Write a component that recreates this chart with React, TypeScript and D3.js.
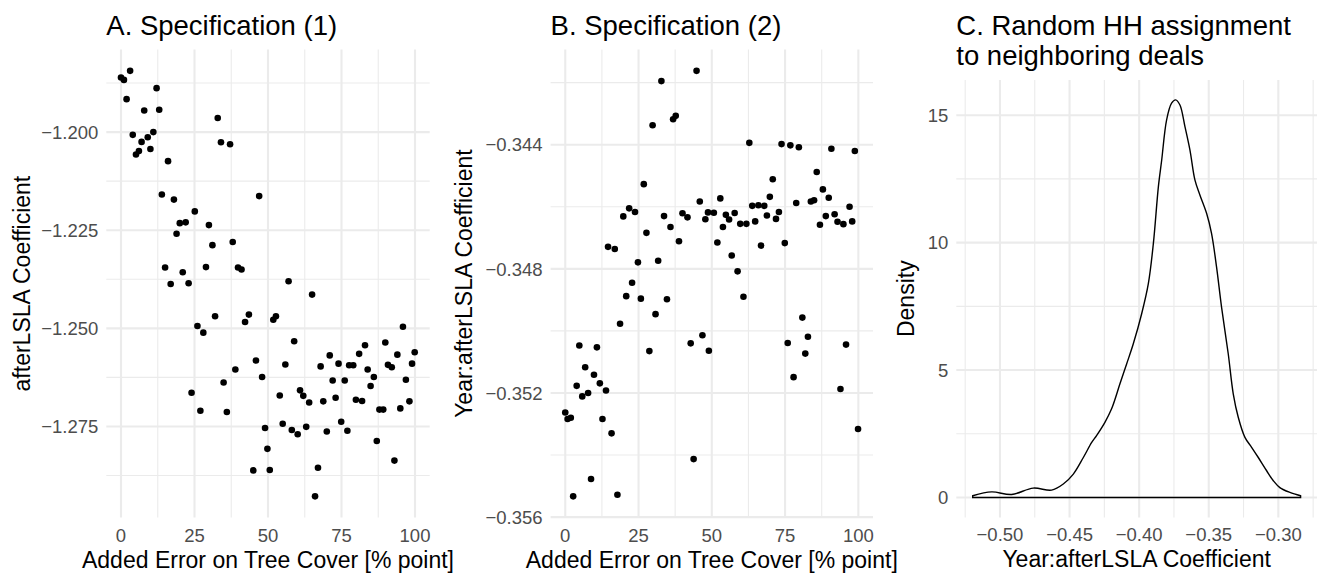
import React from 'react';
import * as d3 from 'd3';

const W = 1318;
const H = 576;

// Panel A: Specification (1)
const specAError = [3.1, 0, 1, 12.1, 1.9, 7.9, 13, 32.9, 4, 11, 9.1, 7, 34, 37.1, 10, 6.1, 5.1, 16, 13.9, 18, 47, 25.1, 20, 22, 29.9, 18.9, 31.1, 38, 15, 21, 28.9, 39.8, 41, 16.9, 23, 32, 43.5, 42.2, 26, 28, 45.9, 38.9, 48, 34.9, 24, 27, 36, 49, 49.8, 45, 50.6, 57, 65, 51.8, 52.7, 58.9, 95.9, 55.9, 67.9, 71, 74, 77.6, 79, 81, 83, 83.9, 86, 84.9, 89.9, 90.8, 92.1, 94, 99.9, 99, 96.9, 72, 76.1, 54, 60.9, 62, 64, 68.8, 73, 79.9, 82, 87.9, 89.2, 95, 98.1, 55, 58.1, 60.1, 63, 70, 74.9, 77, 87, 67, 93, 66];
const specACoef = [-1.1844, -1.1861, -1.1867, -1.1888, -1.1916, -1.1945, -1.1943, -1.1964, -1.2007, -1.2, -1.2013, -1.2025, -1.2026, -1.2031, -1.2043, -1.2048, -1.2057, -1.2074, -1.2159, -1.2172, -1.2163, -1.2202, -1.2232, -1.223, -1.2237, -1.2259, -1.2288, -1.228, -1.2345, -1.2357, -1.2344, -1.2345, -1.235, -1.2387, -1.2385, -1.2469, -1.2465, -1.2484, -1.2494, -1.2511, -1.2582, -1.2605, -1.2624, -1.2638, -1.2664, -1.271, -1.2713, -1.2754, -1.2807, -1.2862, -1.2861, -1.238, -1.2414, -1.2478, -1.2469, -1.2533, -1.2496, -1.2592, -1.2597, -1.2569, -1.259, -1.2594, -1.2594, -1.2565, -1.2543, -1.2605, -1.2624, -1.2647, -1.2536, -1.2593, -1.2599, -1.2567, -1.2561, -1.259, -1.2631, -1.2633, -1.2633, -1.2671, -1.2658, -1.2672, -1.2689, -1.2686, -1.2677, -1.2682, -1.2685, -1.2707, -1.2707, -1.2704, -1.2686, -1.2743, -1.2759, -1.277, -1.2751, -1.2763, -1.2738, -1.2761, -1.2787, -1.2855, -1.2837, -1.2928];

// Panel B: Specification (2)
const specBError = [44.8, 32.8, 29.8, 36.8, 37.7, 26.8, 45.9, 21.8, 19.8, 23.8, 33.7, 40, 41.7, 47.8, 48.7, 35.9, 27.7, 38.8, 14.6, 16.9, 24.8, 31.7, 22.8, 20.8, 25.8, 34.7, 30.8, 18.7, 4.8, 10.8, 28.7, 42.8, 46.8, 49, 6.8, 9.8, 3.9, 11.8, 5.8, 7.8, 13.9, 0, 0.8, 1.9, 12.7, 15.8, 43.8, 8.8, 2.7, 17.8, 62.8, 73.8, 76.8, 79.7, 90.8, 98.8, 85.8, 70.8, 87.9, 69.8, 89.9, 52.9, 78.8, 83.8, 84.9, 63.8, 65.9, 67.9, 97, 50.7, 54.8, 55.9, 57.8, 53.8, 59.7, 61.8, 64.8, 68.8, 71.9, 72.9, 86.9, 88.9, 91.9, 92.9, 94.9, 97.9, 51.9, 66.8, 74.9, 56.8, 58.8, 60.8, 80.9, 75.9, 82.8, 81.9, 95.8, 77.9, 93.9, 99.9];
const specBCoef = [-0.34162, -0.34195, -0.34337, -0.34318, -0.34307, -0.34527, -0.34583, -0.34605, -0.34631, -0.34617, -0.3463, -0.34621, -0.34634, -0.3464, -0.34618, -0.34665, -0.34684, -0.34711, -0.34729, -0.34736, -0.34779, -0.34774, -0.34845, -0.34888, -0.34896, -0.34898, -0.34946, -0.34977, -0.35047, -0.35053, -0.35065, -0.3504, -0.35014, -0.35064, -0.35117, -0.35141, -0.35177, -0.35169, -0.35211, -0.352, -0.35192, -0.35263, -0.35284, -0.3528, -0.35284, -0.3533, -0.35413, -0.35477, -0.35533, -0.35528, -0.34394, -0.34398, -0.34402, -0.34408, -0.34413, -0.3442, -0.34488, -0.34511, -0.34544, -0.34568, -0.34571, -0.34573, -0.34588, -0.34583, -0.34579, -0.34597, -0.34595, -0.34597, -0.346, -0.34619, -0.34626, -0.34641, -0.3462, -0.34665, -0.34655, -0.34655, -0.34647, -0.34628, -0.34639, -0.34617, -0.34658, -0.3463, -0.34624, -0.34648, -0.34656, -0.34647, -0.34715, -0.34725, -0.34717, -0.34757, -0.34808, -0.3489, -0.34957, -0.35039, -0.35019, -0.35073, -0.35044, -0.35149, -0.35187, -0.35316];

// Panel C: density of coefficient
const densCoef = [-0.5196, -0.506, -0.4916, -0.4761, -0.4629, -0.4545, -0.4473, -0.4401, -0.4341, -0.4306, -0.4246, -0.4198, -0.4138, -0.409, -0.4042, -0.3982, -0.3934, -0.3898, -0.3862, -0.3838, -0.3803, -0.3767, -0.3738, -0.3707, -0.3671, -0.3635, -0.3599, -0.3563, -0.3515, -0.348, -0.3444, -0.3408, -0.336, -0.3324, -0.3288, -0.324, -0.3192, -0.3144, -0.3084, -0.3036, -0.2989, -0.2917, -0.284];
const densValue = [0.07, 0.22, 0.12, 0.37, 0.29, 0.53, 0.92, 1.57, 2.16, 2.43, 2.95, 3.48, 4.46, 5.24, 6.03, 7.21, 8.39, 9.96, 12.19, 13.24, 14.81, 15.47, 15.6, 15.4, 14.55, 13.63, 12.45, 11.86, 11.14, 10.36, 9.05, 7.47, 5.64, 4.07, 3.15, 2.36, 1.97, 1.57, 1.05, 0.66, 0.39, 0.2, 0.07];

const errorBreaks = [0, 25, 50, 75, 100];
const errorMinor = [12.5, 37.5, 62.5, 87.5];
const aBreaks = [-1.2, -1.225, -1.25, -1.275];
const aMinor = [-1.1875, -1.2125, -1.2375, -1.2625, -1.2875];
const bBreaks = [-0.344, -0.348, -0.352, -0.356];
const bMinor = [-0.342, -0.346, -0.35, -0.354];
const cxBreaks = [-0.5, -0.45, -0.4, -0.35, -0.3];
const cxMinor = [-0.525, -0.475, -0.425, -0.375, -0.325, -0.275];
const cyBreaks = [0, 5, 10, 15];
const cyMinor = [2.5, 7.5, 12.5];

const FONT = '"Liberation Sans", Arial, Helvetica, sans-serif';
const GRID = '#EBEBEB';
const TICK_COL = '#4D4D4D';
const TITLE_SIZE = 27.5;
const AXIS_TITLE_SIZE = 23;
const TICK_SIZE = 18.5;

const minus = (s: string) => s.replace(/^-/, '\u2212');

const expand = (lo: number, hi: number): [number, number] => {
  const r = hi - lo;
  return [lo - 0.05 * r, hi + 0.05 * r];
};

type PanelProps = {
  left: number; right: number; top: number; bottom: number;
  x: d3.ScaleLinear<number, number>; y: d3.ScaleLinear<number, number>;
  xMajor: number[]; xMinor: number[]; yMajor: number[]; yMinor: number[];
  xFmt: (v: number) => string; yFmt: (v: number) => string;
  title: string[]; titleY: number[]; xTitle: string; yTitle: string; yTitleX: number;
  children?: React.ReactNode;
};

function Panel(p: PanelProps) {
  const cx = (p.left + p.right) / 2;
  const cy = (p.top + p.bottom) / 2;
  return (
    <g>
      {p.yMinor.map((v, i) => (
        <line key={'ym' + i} x1={p.left} x2={p.right} y1={p.y(v)} y2={p.y(v)} stroke={GRID} strokeWidth={1.1} />
      ))}
      {p.xMinor.map((v, i) => (
        <line key={'xm' + i} x1={p.x(v)} x2={p.x(v)} y1={p.top} y2={p.bottom} stroke={GRID} strokeWidth={1.1} />
      ))}
      {p.yMajor.map((v, i) => (
        <line key={'yM' + i} x1={p.left} x2={p.right} y1={p.y(v)} y2={p.y(v)} stroke={GRID} strokeWidth={2.1} />
      ))}
      {p.xMajor.map((v, i) => (
        <line key={'xM' + i} x1={p.x(v)} x2={p.x(v)} y1={p.top} y2={p.bottom} stroke={GRID} strokeWidth={2.1} />
      ))}
      {p.children}
      {p.xMajor.map((v, i) => (
        <text key={'xt' + i} x={p.x(v)} y={p.bottom + 24} textAnchor="middle" fontSize={TICK_SIZE} fill={TICK_COL} fontFamily={FONT}>
          {p.xFmt(v)}
        </text>
      ))}
      {p.yMajor.map((v, i) => (
        <text key={'yt' + i} x={p.left - 8} y={p.y(v)} dy="0.36em" textAnchor="end" fontSize={TICK_SIZE} fill={TICK_COL} fontFamily={FONT}>
          {p.yFmt(v)}
        </text>
      ))}
      <text x={cx} y={p.bottom + 50} textAnchor="middle" fontSize={AXIS_TITLE_SIZE} fill="#000" fontFamily={FONT}>
        {p.xTitle}
      </text>
      <text transform={`translate(${p.yTitleX},${cy}) rotate(-90)`} textAnchor="middle" fontSize={AXIS_TITLE_SIZE} fill="#000" fontFamily={FONT}>
        {p.yTitle}
      </text>
      {p.title.map((t, i) => (
        <text key={'ti' + i} x={p.left} y={p.titleY[i]} fontSize={TITLE_SIZE} fill="#000" fontFamily={FONT}>
          {t}
        </text>
      ))}
    </g>
  );
}

export default function App() {
  const top = 49.6;
  const bottom = 517.6;

  // Panel A
  const axL = 106.3, axR = 429.7;
  const xA = d3.scaleLinear().domain(expand(0, 100)).range([axL, axR]);
  const [aMin, aMax] = d3.extent(specACoef) as [number, number];
  const yA = d3.scaleLinear().domain(expand(aMin, aMax)).range([bottom, top]);

  // Panel B
  const bxL = 550.6, bxR = 873;
  const xB = d3.scaleLinear().domain(expand(0, 100)).range([bxL, bxR]);
  const [bMin, bMax] = d3.extent(specBCoef) as [number, number];
  const yB = d3.scaleLinear().domain(expand(bMin, bMax)).range([bottom, top]);

  // Panel C
  const cxL = 956.3, cxR = 1317;
  const cTop = 80, cBottom = 517.4;
  const [cMin, cMax] = d3.extent(densCoef) as [number, number];
  const xC = d3.scaleLinear().domain(expand(cMin, cMax)).range([cxL, cxR]);
  const yC = d3.scaleLinear().domain(expand(0, d3.max(densValue) as number)).range([cBottom, cTop]);

  const pts = densCoef.map((c, i) => [c, densValue[i]] as [number, number]);
  const line = d3.line<[number, number]>().x(d => xC(d[0])).y(d => yC(d[1])).curve(d3.curveCatmullRom.alpha(0.5));
  const densPath = (line(pts) as string) + `L${xC(cMax)},${yC(0)}L${xC(cMin)},${yC(0)}Z`;

  const fmtInt = (v: number) => minus(d3.format('d')(v));
  const fmt3 = (v: number) => minus(d3.format('.3f')(v));
  const fmt2 = (v: number) => minus(d3.format('.2f')(v));

  return (
    <svg width={W} height={H} style={{ position: 'absolute', left: 0, top: 0, background: '#fff' }}>
      <rect x={0} y={0} width={W} height={H} fill="#fff" />
      <Panel left={axL} right={axR} top={top} bottom={bottom} x={xA} y={yA}
        xMajor={errorBreaks} xMinor={errorMinor} yMajor={aBreaks} yMinor={aMinor}
        xFmt={fmtInt} yFmt={fmt3}
        title={['A. Specification (1)']} titleY={[35]}
        xTitle="Added Error on Tree Cover [% point]" yTitle="afterLSLA Coefficient" yTitleX={30}>
        {specAError.map((e, i) => (
          <circle key={i} cx={xA(e)} cy={yA(specACoef[i])} r={3.3} fill="#000" />
        ))}
      </Panel>
      <Panel left={bxL} right={bxR} top={top} bottom={bottom} x={xB} y={yB}
        xMajor={errorBreaks} xMinor={errorMinor} yMajor={bBreaks} yMinor={bMinor}
        xFmt={fmtInt} yFmt={fmt3}
        title={['B. Specification (2)']} titleY={[35]}
        xTitle="Added Error on Tree Cover [% point]" yTitle="Year:afterLSLA Coefficient" yTitleX={472}>
        {specBError.map((e, i) => (
          <circle key={i} cx={xB(e)} cy={yB(specBCoef[i])} r={3.3} fill="#000" />
        ))}
      </Panel>
      <Panel left={cxL} right={cxR} top={cTop} bottom={cBottom} x={xC} y={yC}
        xMajor={cxBreaks} xMinor={cxMinor} yMajor={cyBreaks} yMinor={cyMinor}
        xFmt={fmt2} yFmt={fmtInt}
        title={['C. Random HH assignment', 'to neighboring deals']} titleY={[35, 65]}
        xTitle="Year:afterLSLA Coefficient" yTitle="Density" yTitleX={914}>
        <path d={densPath} fill="none" stroke="#000" strokeWidth={1.4} />
      </Panel>
    </svg>
  );
}
